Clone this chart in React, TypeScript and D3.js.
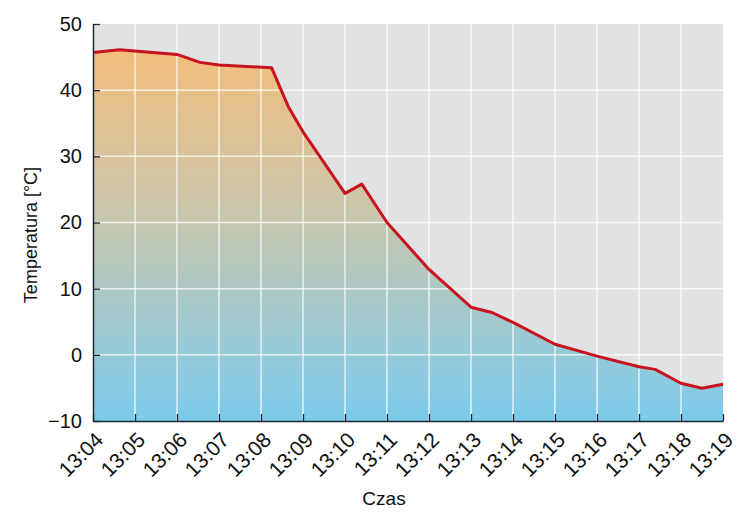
import { useEffect, useRef } from "react";
import * as d3 from "d3";

// Measured readings (time, temperature °C)
const times = [
  "13:04:00", "13:04:38", "13:06:00", "13:06:33", "13:07:00", "13:08:15",
  "13:08:39", "13:09:00", "13:10:00", "13:10:24", "13:11:00", "13:12:00",
  "13:13:00", "13:13:30", "13:14:00", "13:15:00", "13:16:00", "13:17:00",
  "13:17:23", "13:18:00", "13:18:30", "13:19:00",
];
const temps = [
  45.7, 46.1, 45.4, 44.2, 43.8, 43.4,
  37.5, 33.7, 24.4, 25.8, 20.0, 12.9,
  7.2, 6.4, 4.9, 1.6, -0.2, -1.8,
  -2.2, -4.3, -5.05, -4.45,
];
const xTickLabels = [
  "13:04", "13:05", "13:06", "13:07", "13:08", "13:09", "13:10", "13:11",
  "13:12", "13:13", "13:14", "13:15", "13:16", "13:17", "13:18", "13:19",
];
const yTicks = [-10, 0, 10, 20, 30, 40, 50];

const WIDTH = 739;
const HEIGHT = 522;
const MARGIN = { top: 24, right: 16, bottom: 101, left: 93 };
const FONT = "'Liberation Sans', Arial, sans-serif";

export default function App() {
  const svgRef = useRef<SVGSVGElement>(null);

  useEffect(() => {
    if (!svgRef.current) return;
    const svg = d3.select(svgRef.current);
    svg.selectAll("*").remove();

    const parse = d3.timeParse("%H:%M:%S");
    const data = times.map((t, i) => ({ date: parse(t) as Date, value: temps[i] }));
    const tickDates = xTickLabels.map((t) => parse(t + ":00") as Date);

    const w = WIDTH - MARGIN.left - MARGIN.right;
    const h = HEIGHT - MARGIN.top - MARGIN.bottom;

    const x = d3
      .scaleTime()
      .domain([tickDates[0], tickDates[tickDates.length - 1]])
      .range([0, w]);
    const y = d3.scaleLinear().domain([-10, 50]).range([h, 0]);

    const g = svg
      .append("g")
      .attr("transform", `translate(${MARGIN.left},${MARGIN.top})`);

    // gradient for the area
    const defs = svg.append("defs");
    const grad = defs
      .append("linearGradient")
      .attr("id", "tempGrad")
      .attr("gradientUnits", "userSpaceOnUse")
      .attr("x1", 0)
      .attr("x2", 0)
      .attr("y1", y(50))
      .attr("y2", y(-10));
    grad.append("stop").attr("offset", "0%").attr("stop-color", "#f8bc74");
    grad.append("stop").attr("offset", "45%").attr("stop-color", "#cdc6aa");
    grad.append("stop").attr("offset", "100%").attr("stop-color", "#7ccbec");

    // plot background
    g.append("rect")
      .attr("width", w)
      .attr("height", h)
      .attr("fill", "#e1e2e4");

    // area under the line
    const area = d3
      .area<{ date: Date; value: number }>()
      .x((d) => x(d.date))
      .y0(y(-10))
      .y1((d) => y(d.value));
    g.append("path").datum(data).attr("d", area).attr("fill", "url(#tempGrad)");

    // grid
    g.append("g")
      .selectAll("line")
      .data(tickDates.slice(1, -1))
      .join("line")
      .attr("x1", (d) => x(d))
      .attr("x2", (d) => x(d))
      .attr("y1", 0)
      .attr("y2", h)
      .attr("stroke", "rgba(255,255,255,0.75)")
      .attr("stroke-width", 1.5);
    g.append("g")
      .selectAll("line")
      .data(yTicks.slice(1, -1))
      .join("line")
      .attr("x1", 0)
      .attr("x2", w)
      .attr("y1", (d) => y(d))
      .attr("y2", (d) => y(d))
      .attr("stroke", "rgba(255,255,255,0.75)")
      .attr("stroke-width", 1.5);

    // line
    const line = d3
      .line<{ date: Date; value: number }>()
      .x((d) => x(d.date))
      .y((d) => y(d.value));
    g.append("path")
      .datum(data)
      .attr("d", line)
      .attr("fill", "none")
      .attr("stroke", "#c8141e")
      .attr("stroke-width", 3)
      .attr("stroke-linejoin", "round");

    // x axis
    const xAxis = g
      .append("g")
      .attr("transform", `translate(0,${h})`)
      .call(
        d3
          .axisBottom(x)
          .tickValues(tickDates)
          .tickSizeInner(-7)
          .tickSizeOuter(0)
          .tickFormat((_, i) => xTickLabels[i])
      );
    xAxis.select(".domain").attr("stroke", "#1c2833").attr("stroke-width", 1.5);
    xAxis.selectAll(".tick line").attr("stroke", "#1c2833").attr("stroke-width", 1.3);
    xAxis
      .selectAll(".tick text")
      .attr("fill", "#111")
      .attr("font-family", FONT)
      .attr("font-size", "21px")
      .attr("text-anchor", "end")
      .attr("transform", "translate(0,9) rotate(-45)")
      .attr("x", 0)
      .attr("y", 0)
      .attr("dy", "0.75em");

    // y axis
    const yAxis = g.append("g").call(
      d3
        .axisLeft(y)
        .tickValues(yTicks)
        .tickSizeInner(-7)
        .tickSizeOuter(0)
        .tickPadding(11)
        .tickFormat((d) => ((d as number) < 0 ? `\u2212${Math.abs(d as number)}` : `${d}`))
    );
    yAxis.select(".domain").attr("stroke", "#1c2833").attr("stroke-width", 1.5);
    yAxis.selectAll(".tick line").attr("stroke", "#1c2833").attr("stroke-width", 1.3);
    yAxis
      .selectAll(".tick text")
      .attr("fill", "#111")
      .attr("font-family", FONT)
      .attr("font-size", "20px");

    // axis titles
    svg
      .append("text")
      .attr("x", 384)
      .attr("y", 505)
      .attr("text-anchor", "middle")
      .attr("font-family", FONT)
      .attr("font-size", "19px")
      .attr("fill", "#111")
      .text("Czas");
    svg
      .append("text")
      .attr("transform", `translate(37,235) rotate(-90)`)
      .attr("text-anchor", "middle")
      .attr("font-family", FONT)
      .attr("font-size", "18px")
      .attr("fill", "#111")
      .text("Temperatura [°C]");
  }, []);

  return (
    <svg
      ref={svgRef}
      width={WIDTH}
      height={HEIGHT}
      style={{ position: "absolute", left: 0, top: 0, background: "#fff" }}
    />
  );
}
